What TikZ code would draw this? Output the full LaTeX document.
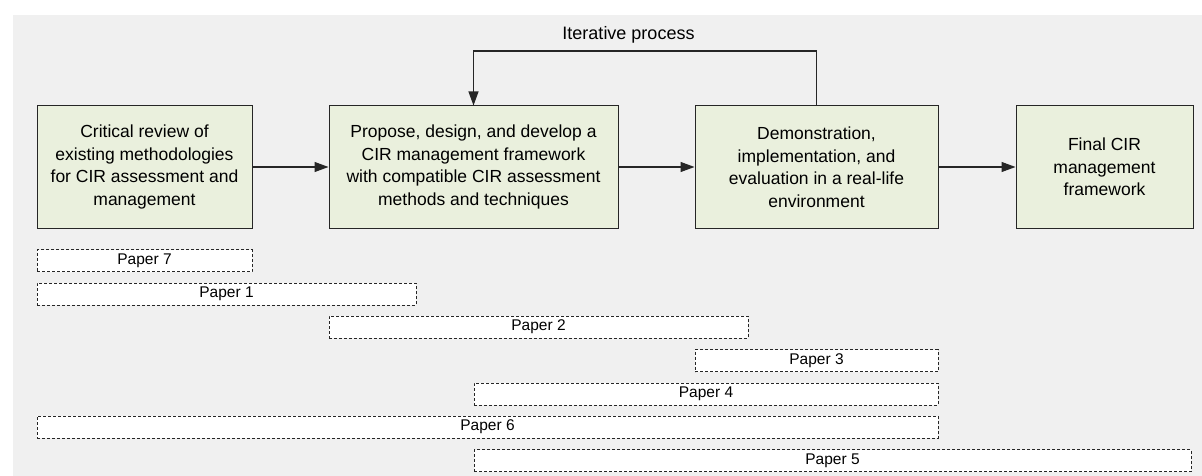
\documentclass[tikz,border=0pt]{standalone}
\usepackage{fontspec}
\setmainfont{Liberation Sans}
\usetikzlibrary{arrows.meta}
\definecolor{canvas}{HTML}{F0F0F0}
\definecolor{stagefill}{HTML}{EAF0DD}
\definecolor{edge}{HTML}{262626}
\tikzset{
  stage/.style={draw=edge, line width=1pt, fill=stagefill, align=center,
    minimum height=122pt, inner sep=0pt,
    font=\fontsize{17.5}{22.5}\selectfont},
  paper/.style={draw=edge, line width=0.9pt, dash pattern=on 3pt off 2pt,
    fill=white, minimum height=22pt, inner sep=0pt,
    font=\fontsize{15.5}{18}\selectfont},
  flow/.style={draw=edge, line width=1.1pt,
    -{Triangle[length=14pt,width=10pt]}},
  caption/.style={font=\fontsize{18}{20}\selectfont, inner sep=0pt}
}
\begin{document}
\begin{tikzpicture}[x=1pt,y=-1pt]
  % page and grey canvas
  \useasboundingbox (0,0) rectangle (1202,476);
  \fill[white] (0,0) rectangle (1202,476);
  \fill[canvas] (13,15) rectangle (1202,476);

  % process stages
  \node[stage, minimum width=215pt] (review) at (144.5,167)
    {Critical review of\\existing methodologies\\for CIR assessment and\\management};
  \node[stage, minimum width=289pt] (design) at (473.5,167)
    {Propose, design, and develop a\\CIR management framework\\with compatible CIR assessment\\methods and techniques};
  \node[stage, minimum width=243pt] (demo) at (816.5,167)
    {Demonstration,\\implementation, and\\evaluation in a real-life\\environment};
  \node[stage, minimum width=177pt] (final) at (1104.5,167)
    {Final CIR\\management\\framework};

  % forward flow
  \draw[flow] (review.east) -- (design.west);
  \draw[flow] (design.east) -- (demo.west);
  \draw[flow] (demo.east) -- (final.west);

  % iteration loop
  \coordinate (loopR) at (816.5,51);
  \coordinate (loopL) at (473.5,51);
  \draw[flow] (demo.north) -- (loopR) -- (loopL) -- (design.north);
  \node[caption] (iter) at (628.5,35) {Iterative process};

  % papers covering the stages
  \node[paper, minimum width=215pt] (p7) at (144.5,260.5) {Paper 7};
  \node[paper, minimum width=379pt] (p1) at (226.5,294) {Paper 1};
  \node[paper, minimum width=419pt] (p2) at (538.5,327) {Paper 2};
  \node[paper, minimum width=243pt] (p3) at (816.5,360.5) {Paper 3};
  \node[paper, minimum width=464pt] (p4) at (706,394) {Paper 4};
  \node[paper, minimum width=901pt] (p6) at (487.5,427) {Paper 6};
  \node[paper, minimum width=717pt] (p5) at (832.5,460.5) {Paper 5};
\end{tikzpicture}
\end{document}
